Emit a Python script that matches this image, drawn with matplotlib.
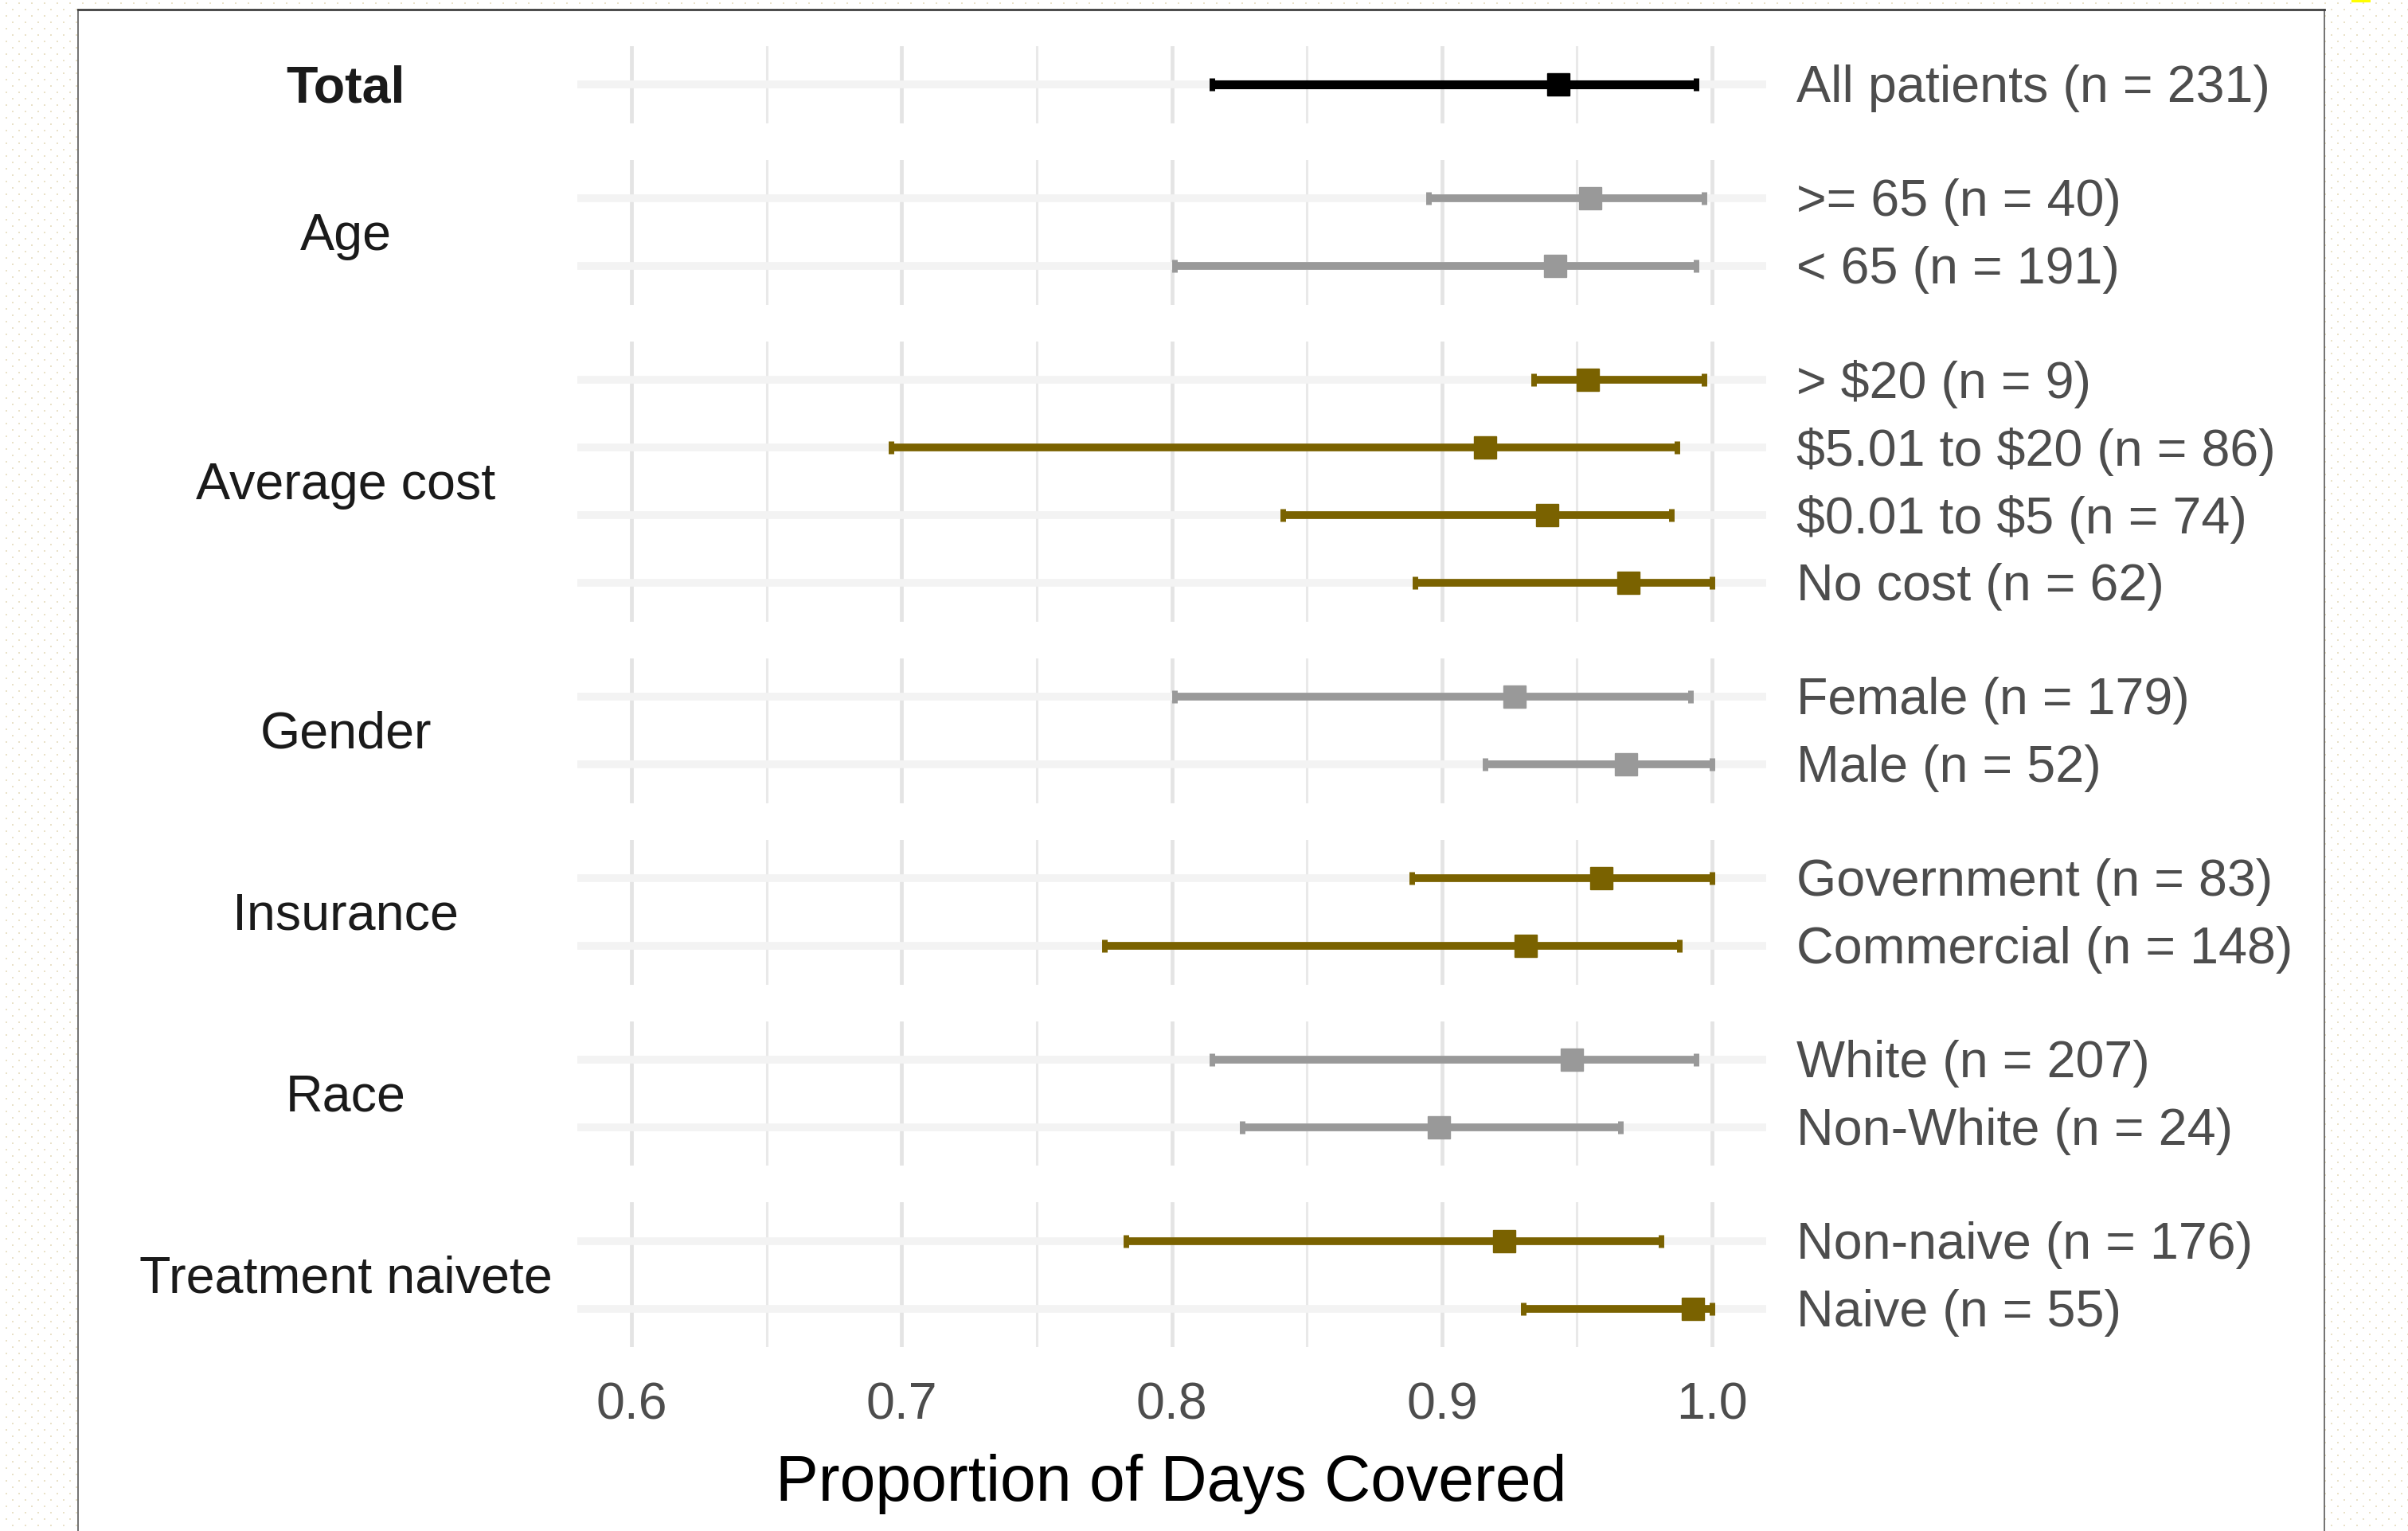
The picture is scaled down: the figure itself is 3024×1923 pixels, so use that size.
import numpy as np
import matplotlib
matplotlib.use('Agg')
from matplotlib import pyplot as plt
from matplotlib.patches import Rectangle

plt.rcParams['font.family'] = ['Liberation Sans', 'DejaVu Sans']

# facet groups (top to bottom)
groups = ['Total', 'Age', 'Average cost', 'Gender', 'Insurance', 'Race', 'Treatment naivete']
group_sizes = [1, 2, 4, 2, 2, 2, 2]
group_colors = ['#000000', '#999999', '#7a6200', '#999999', '#7a6200', '#999999', '#7a6200']

# rows (top to bottom)
row_labels = ['All patients (n = 231)',
              '>= 65 (n = 40)', '< 65 (n = 191)',
              '> $20 (n = 9)', '$5.01 to $20 (n = 86)', '$0.01 to $5 (n = 74)', 'No cost (n = 62)',
              'Female (n = 179)', 'Male (n = 52)',
              'Government (n = 83)', 'Commercial (n = 148)',
              'White (n = 207)', 'Non-White (n = 24)',
              'Non-naive (n = 176)', 'Naive (n = 55)']
pdc = [0.943, 0.955, 0.942, 0.954, 0.916, 0.939, 0.969, 0.927, 0.968,
       0.959, 0.931, 0.948, 0.899, 0.923, 0.993]
ci_low = [0.815, 0.895, 0.801, 0.934, 0.696, 0.841, 0.890, 0.801, 0.916,
          0.889, 0.775, 0.815, 0.826, 0.783, 0.930]
ci_high = [0.994, 0.997, 0.994, 0.997, 0.987, 0.985, 1.000, 0.992, 1.000,
           1.000, 0.988, 0.994, 0.966, 0.981, 1.000]

x_ticks = [0.6, 0.7, 0.8, 0.9, 1.0]
x_tick_labels = ['0.6', '0.7', '0.8', '0.9', '1.0']
x_minor = [0.65, 0.75, 0.85, 0.95]

# layout (pixels)
W, H = 3024, 1923
panel_left, panel_right = 725, 2218
panel_top = 58
row_px = 85
pad_rows = 0.57
gap_px = 46
fs = 46.5

fig = plt.figure(figsize=(W / 100, H / 100), dpi=100)

# page background: dotted texture outside a framed white sheet
bg = fig.add_axes([0, 0, 1, 1], zorder=-5)
bg.set_xlim(0, W)
bg.set_ylim(H, 0)
bg.axis('off')
gx, gy = np.meshgrid(np.arange(8, W, 16), np.arange(4, H, 8))
gx = gx + (np.arange(gx.shape[0])[:, None] % 2) * 8
bg.scatter(gx.ravel(), gy.ravel(), s=2, c='#e9e1c8', marker='s', linewidths=0)
bg.add_patch(Rectangle((98, 12), 2919 - 98, H, facecolor='white', edgecolor='none'))
bg.plot([98, 98], [12, H], color='#5a5a5a', lw=1.2)
bg.plot([2919, 2919], [12, H], color='#5a5a5a', lw=1.2)
bg.plot([98, 2919], [12, 12], color='#404040', lw=2)
bg.add_patch(Rectangle((2953, 0), 24, 3, facecolor='#ffff00', edgecolor='none'))

y_px = panel_top
start = 0
for k, (g, n, col) in enumerate(zip(groups, group_sizes, group_colors)):
    h_px = (n - 1 + 2 * pad_rows) * row_px
    ax = fig.add_axes([panel_left / W, 1 - (y_px + h_px) / H,
                       (panel_right - panel_left) / W, h_px / H])
    ys = -np.arange(n)
    est = np.array(pdc[start:start + n])
    lo = np.array(ci_low[start:start + n])
    hi = np.array(ci_high[start:start + n])

    ax.errorbar(est, ys, xerr=[est - lo, hi - est], fmt='s', color=col, ecolor=col,
                markeredgecolor=col, elinewidth=8 if g == 'Total' else 7,
                capsize=6, capthick=5, markersize=20, zorder=3)

    ax.set_xlim(0.58, 1.02)
    ax.set_ylim(-(n - 1) - pad_rows, pad_rows)
    ax.set_xticks(x_ticks)
    ax.set_xticks(x_minor, minor=True)
    ax.set_yticks(ys)
    ax.set_yticklabels([])
    ax.grid(which='major', axis='y', color='#f3f3f3', lw=7)
    ax.grid(which='minor', axis='x', color='#e9e9e9', lw=2.2)
    ax.grid(which='major', axis='x', color='#e4e4e4', lw=3.4)
    ax.tick_params(length=0, which='both')
    ax.set_axisbelow(True)
    for s in ax.spines.values():
        s.set_visible(False)
    ax.patch.set_visible(False)

    if k == len(groups) - 1:
        ax.set_xticklabels(x_tick_labels)
        ax.tick_params(axis='x', labelsize=fs, labelcolor='#4d4d4d', pad=31)
    else:
        ax.set_xticklabels([])

    for i, y in enumerate(ys):
        ax.annotate(row_labels[start + i], xy=(1, y), xycoords=('axes fraction', 'data'),
                    xytext=(27, -3.5), textcoords='offset points', ha='left', va='center',
                    fontsize=fs, color='#4d4d4d', annotation_clip=False, parse_math=False)

    fig.text(434 / W, 1 - (y_px + h_px / 2 + 5) / H, g, ha='center', va='center',
             fontsize=fs, color='#1a1a1a', fontweight='bold' if g == 'Total' else 'normal')

    start += n
    y_px += h_px + gap_px

fig.text(1471 / W, 1 - 1885 / H, 'Proportion of Days Covered', ha='center', va='baseline',
         fontsize=58, color='black')

fig.savefig('out.png', dpi=100)
